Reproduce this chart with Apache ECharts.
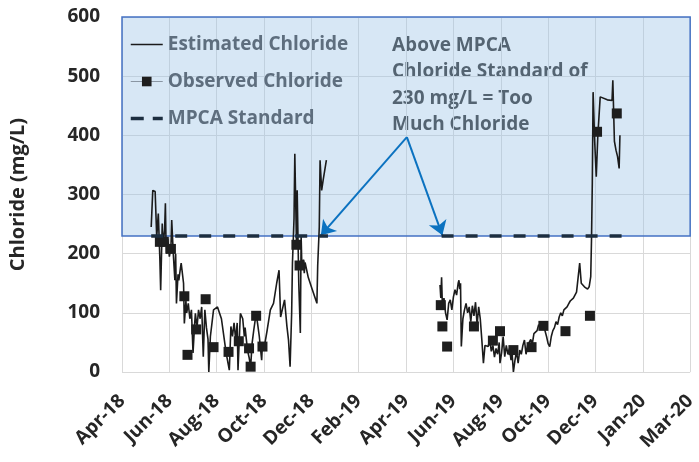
<!DOCTYPE html>
<html>
<head>
<meta charset="utf-8">
<script src="https://cdn.jsdelivr.net/npm/echarts@6/dist/echarts.min.js"></script>
<style>
  html, body { margin: 0; padding: 0; background: #fff; }
  #chart { width: 699px; height: 462px; }
</style>
</head>
<body>
<div id="chart"></div>
<script>
// x values are days counted from 11 Apr 2018 (axis origin), ticks every 60 days
var startDate = Date.UTC(2018, 3, 11);

// estimated chloride (mg/L), two sampling seasons, null = gap
var estDays = [37,39,42,44,46,48,49,51,52,54,55,56,58,60,62,63,65,67,68,69,71,72,74,75,78,79,81,82,84,86,88,90,92,93,95,97,99,101,103,105,107,109,110,112,116,121,126,132,136,138,140,142,144,146,147,150,153,155,156,159,161,163,165,167,170,172,174,177,178,180,184,188,192,196,199,201,206,209,211,213,215,216,218,219,221,222,224,226,227,228,230,231,232,236,241,247,248,250,251,253,255,259,
  330,
  403,404,405,406,408,410,412,414,416,418,420,422,424,426,427,428,429,430,432,434,436,438,440,442,444,446,448,450,452,454,456,458,460,462,464,466,468,470,472,474,476,478,479,481,483,485,487,489,491,493,494,496,498,500,502,504,506,508,510,512,514,516,518,520,522,524,526,528,530,532,534,536,538,540,542,544,546,548,550,552,554,556,558,560,562,564,566,568,570,572,574,576,578,580,582,584,586,588,590,592,594,595,596,597,599,601,603,606,615,621,622,624,626,628,630,631];
var estValues = [245,307,305,228,268,190,138,251,215,240,285,200,225,195,210,257,200,155,200,116,165,155,175,184,150,82,120,100,116,90,105,32,80,99,75,105,90,110,26,105,75,55,0,60,105,110,90,32,3,77,60,83,55,83,3,99,90,60,75,37,25,9,50,71,99,80,60,20,50,40,71,105,116,150,172,93,122,77,54,9,100,184,260,369,223,307,150,66,230,175,190,167,185,160,140,116,180,245,358,307,325,358,
  null,
  147,125,160,112,125,100,88,116,122,105,127,139,130,150,155,140,150,43,90,105,116,100,110,85,112,95,118,80,110,90,54,15,45,48,43,55,35,45,25,40,30,50,15,32,60,26,45,30,40,20,38,0,20,35,15,37,30,45,54,30,45,43,55,48,65,62,70,80,75,85,88,70,60,48,43,60,70,75,85,80,93,100,95,105,108,110,115,120,122,125,130,135,133,184,150,148,144,145,140,144,161,225,320,473,390,330,400,465,460,459,493,390,375,364,344,400];

// observed chloride samples
var obsDays = [48,53,62,79,83,94,106,116,135,148,161,163,170,178,221,225,
  404,406,412,446,470,479,496,519,534,562,593,602,627];
var obsValues = [220,220,208,128,29,72,123,42,34,52,40,9,95,43,215,180,
  113,77,43,77,53,69,37,42,78,69,95,406,437];

// MPCA chronic standard 230 mg/L over each season
var stdDays = [37,261,330,405,634];
var stdValues = [230,230,null,230,230];

// callout arrows: from the note down to the standard line
var arrowFrom = [361, 397];
var arrowTo = [[252, 231], [406, 231]];

var tickLabels = ['Apr-18','Jun-18','Aug-18','Oct-18','Dec-18','Feb-19','Apr-19','Jun-19','Aug-19','Oct-19','Dec-19','Jan-20','Mar-20'];

var noteLines = ['Above MPCA', 'Chloride Standard of', '230 mg/L = Too', 'Much Chloride'];

function pairs(xs, ys) {
  var out = [];
  for (var i = 0; i < xs.length; i++) out.push([xs[i], ys[i]]);
  return out;
}

var font = 'Open Sans';
var hidden = { color: 'rgba(0,0,0,0)', borderColor: 'rgba(0,0,0,0)', borderWidth: 0 };
var chart = echarts.init(document.getElementById('chart'), null, { renderer: 'canvas' });

var option = {
  animation: false,
  textStyle: { fontFamily: font },
  grid: { left: 122, right: 4, top: 17, bottom: 90 },
  legend: {
    orient: 'vertical',
    left: 124,
    top: 30,
    itemWidth: 32,
    itemHeight: 12,
    itemGap: 18,
    textStyle: { fontFamily: font, fontSize: 19, fontWeight: 'bold', color: '#5e6e7e' },
    data: [
      { name: 'Estimated Chloride', itemStyle: hidden, lineStyle: { color: '#1b1b1b', width: 1.5 } },
      { name: 'Observed Chloride', lineStyle: { opacity: 1, width: 1.2, color: '#8a96a3' } },
      { name: 'MPCA Standard', itemStyle: hidden, lineStyle: { color: '#1c2e40', width: 3.5, type: [13, 9] } }
    ]
  },
  graphic: [{
    type: 'text',
    left: 392,
    top: 32,
    style: {
      text: noteLines.join('\n'),
      fontFamily: font,
      fontSize: 19,
      fontWeight: 'bold',
      lineHeight: 26.5,
      fill: '#262626'
    }
  }],
  xAxis: {
    type: 'value',
    min: 0,
    max: 720,
    interval: 60,
    axisLine: { show: false },
    axisTick: { show: false },
    splitLine: { show: true, lineStyle: { color: '#d9d9d9', width: 1 } },
    axisLabel: {
      rotate: 45,
      margin: 26,
      fontFamily: font,
      fontSize: 19,
      fontWeight: 'bold',
      color: '#262626',
      formatter: function (v) { return tickLabels[Math.round(v / 60)]; }
    }
  },
  yAxis: {
    type: 'value',
    min: 0,
    max: 600,
    interval: 100,
    name: 'Chloride (mg/L)',
    nameLocation: 'middle',
    nameGap: 94,
    nameTextStyle: { fontFamily: font, fontSize: 20, fontWeight: 'bold', color: '#262626' },
    axisLine: { show: false },
    axisTick: { show: false },
    splitLine: { show: true, lineStyle: { color: '#d9d9d9', width: 1 } },
    axisLabel: { margin: 22, fontFamily: font, fontSize: 19, fontWeight: 'bold', color: '#262626' }
  },
  series: [
    {
      name: 'zone',
      type: 'line',
      data: [],
      silent: true,
      markArea: {
        silent: true,
        itemStyle: { color: 'rgba(155,194,230,0.4)', borderColor: '#4472c4', borderWidth: 1.5 },
        data: [[{ yAxis: 230 }, { yAxis: 600 }]]
      }
    },
    {
      name: 'Estimated Chloride',
      type: 'line',
      data: pairs(estDays, estValues),
      showSymbol: false,
      symbol: 'none',
      connectNulls: false,
      lineStyle: { color: '#1b1b1b', width: 1.6 },
      itemStyle: { color: '#1b1b1b' },
      z: 3
    },
    {
      name: 'Observed Chloride',
      type: 'line',
      data: pairs(obsDays, obsValues),
      symbol: 'rect',
      symbolSize: 10,
      showAllSymbol: true,
      lineStyle: { opacity: 0, width: 0 },
      itemStyle: { color: '#1e1e1e' },
      z: 4
    },
    {
      name: 'MPCA Standard',
      type: 'line',
      data: pairs(stdDays, stdValues),
      symbol: 'none',
      connectNulls: false,
      lineStyle: { color: '#1c2e40', width: 3.5, type: [12, 12] },
      itemStyle: { color: '#1c2e40' },
      z: 5
    },
    {
      name: 'arrows',
      type: 'line',
      data: [],
      silent: true,
      z: 6,
      markLine: {
        silent: true,
        animation: false,
        symbol: ['none', 'arrow'],
        symbolSize: 14,
        label: { show: false },
        emphasis: { disabled: true },
        lineStyle: { color: '#0b72c0', width: 2, type: 'solid' },
        itemStyle: { color: '#0b72c0' },
        data: arrowTo.map(function (p) {
          return [{ coord: arrowFrom }, { coord: p }];
        })
      }
    }
  ]
};

chart.setOption(option);
</script>
</body>
</html>
